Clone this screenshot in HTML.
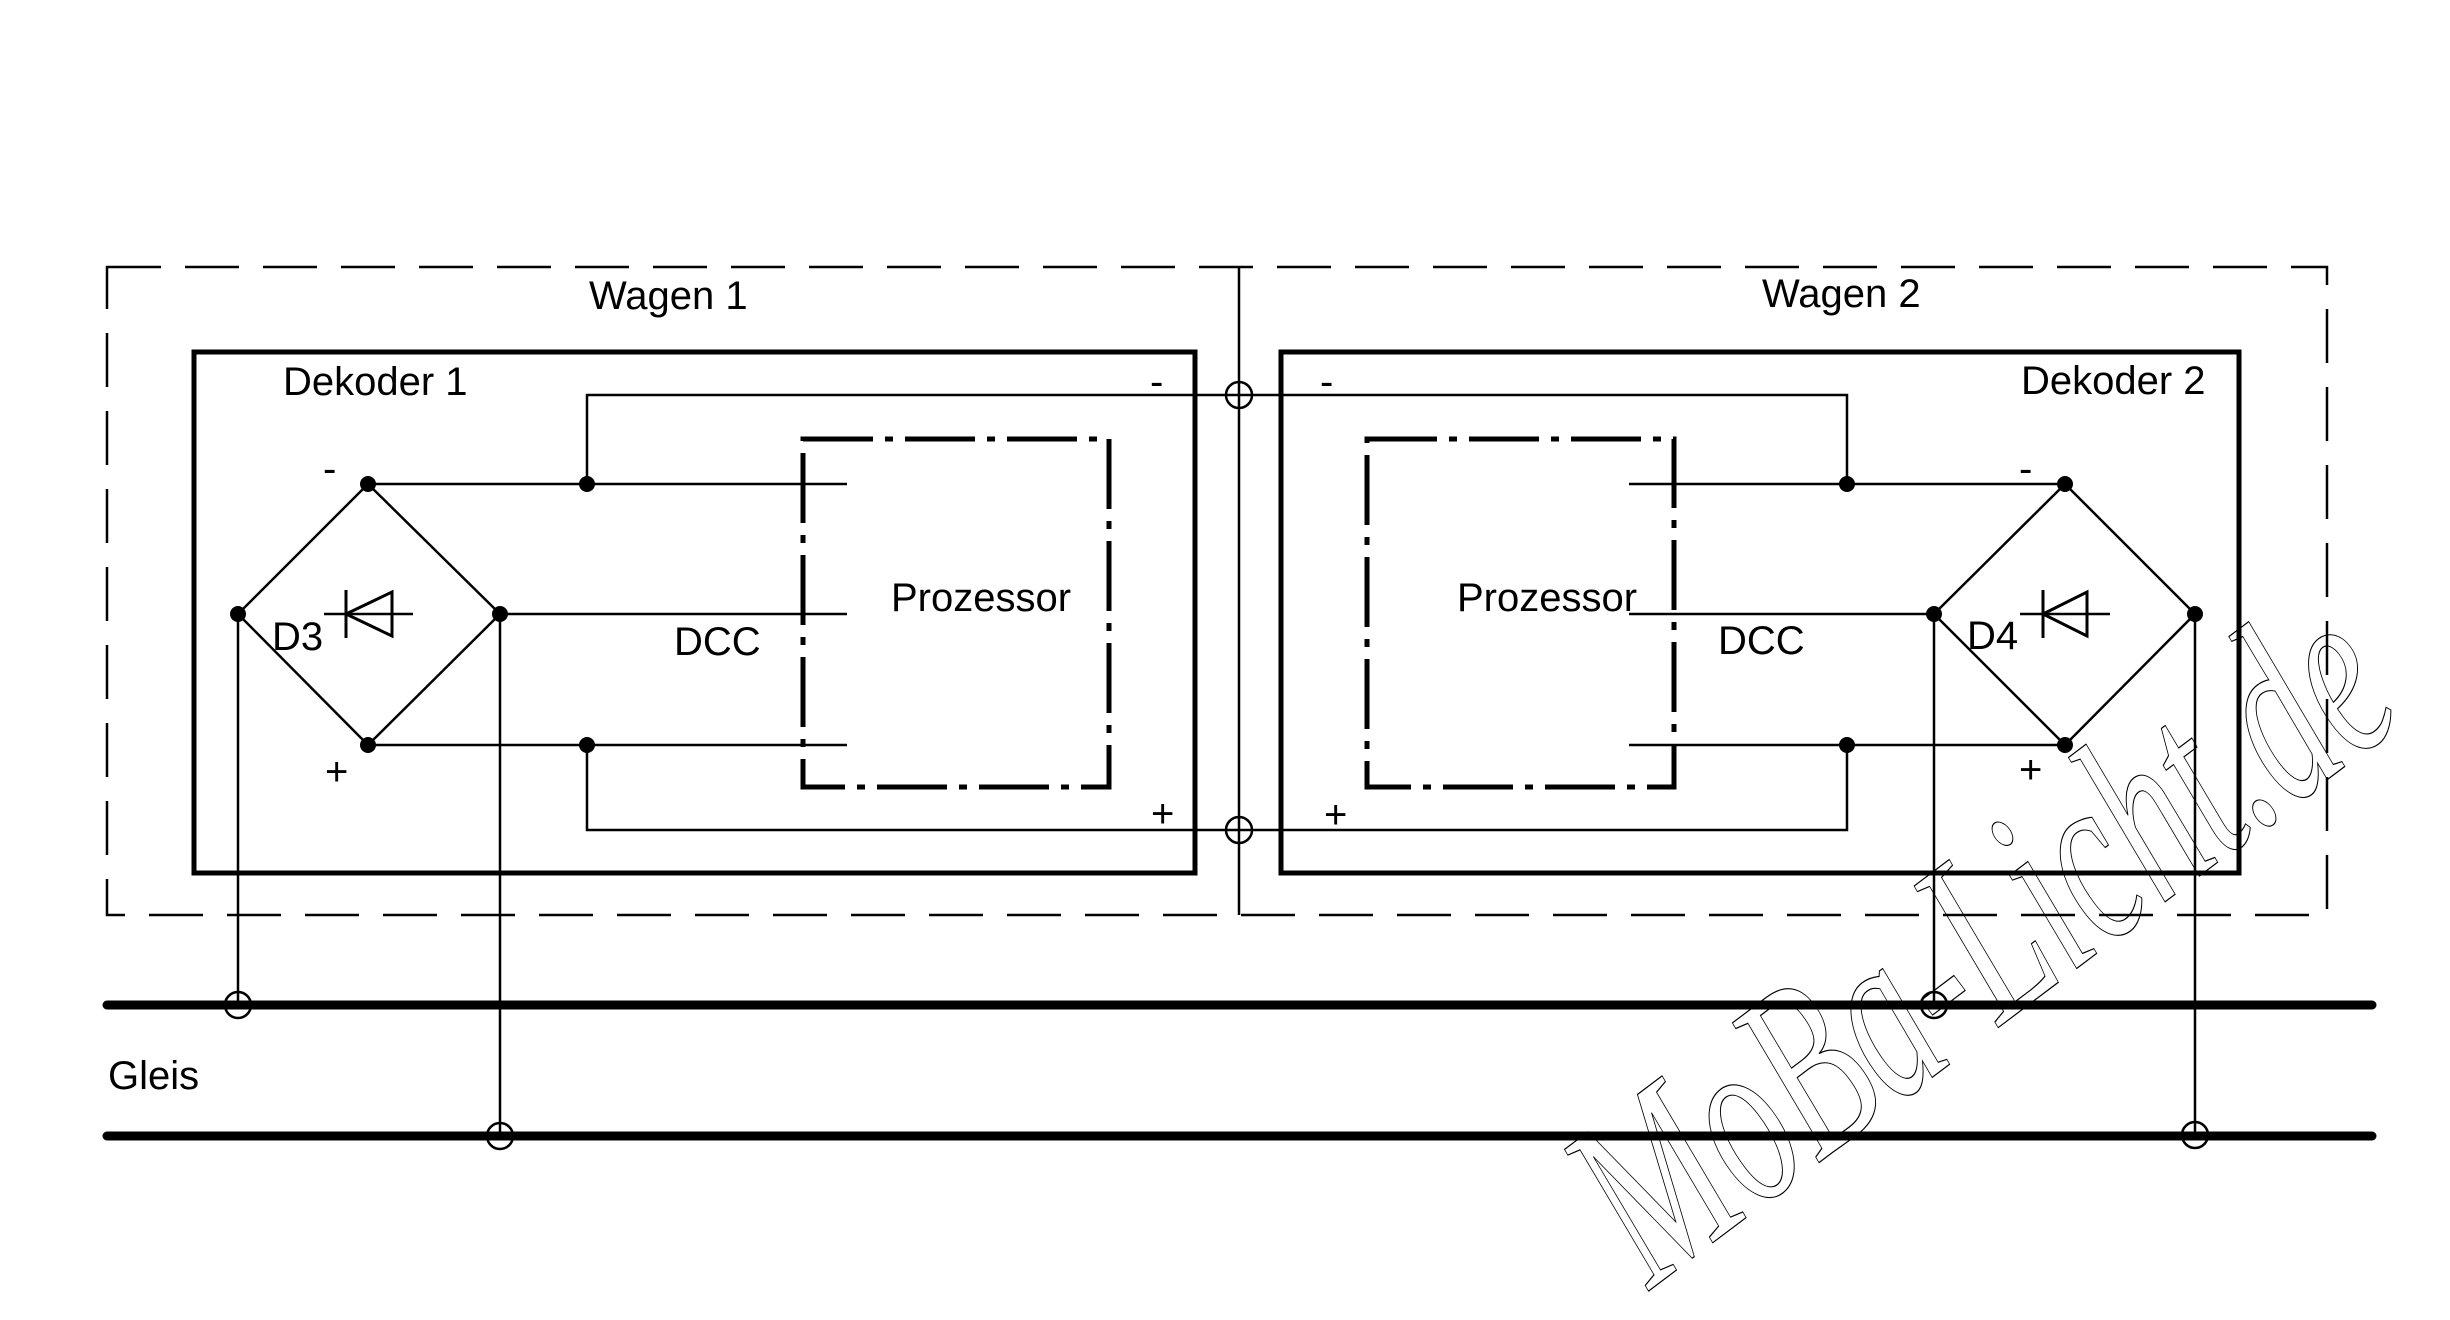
<!DOCTYPE html>
<html><head><meta charset="utf-8"><style>
html,body{margin:0;padding:0;background:#fff;}
svg{display:block;}
text{font-family:"Liberation Sans",Arial,sans-serif;font-size:40px;fill:#000;}
</style></head><body>
<svg width="2450" height="1320" viewBox="0 0 2450 1320" xmlns="http://www.w3.org/2000/svg">
<g fill="none" stroke="#000">
<rect x="107" y="267" width="2220" height="648" stroke-width="2.5" stroke-dasharray="54,24"/>
<line x1="1239" y1="267" x2="1239" y2="915" stroke-width="2.5"/>
<rect x="194" y="352" width="1001" height="521" stroke-width="5"/>
<rect x="1281" y="352" width="958" height="521" stroke-width="5"/>
<rect x="803" y="439" width="306" height="348" stroke-width="5" stroke-dasharray="70,12,8,12"/>
<rect x="1367" y="439" width="307" height="348" stroke-width="5" stroke-dasharray="70,12,8,12"/>
<polygon points="368,484 500,614 368,745 238,614" stroke-width="2.5"/>
<polygon points="2065,484 2195,614 2065,745 1934,614" stroke-width="2.5"/>
<polyline points="368,484 847,484" stroke-width="2.5"/>
<polyline points="500,614 847,614" stroke-width="2.5"/>
<polyline points="368,745 847,745" stroke-width="2.5"/>
<polyline points="587,484 587,395 1847,395 1847,484" stroke-width="2.5"/>
<polyline points="587,745 587,830 1847,830 1847,745" stroke-width="2.5"/>
<polyline points="1629,484 2065,484" stroke-width="2.5"/>
<polyline points="1629,614 1934,614" stroke-width="2.5"/>
<polyline points="1629,745 2065,745" stroke-width="2.5"/>
<line x1="238" y1="614" x2="238" y2="1005" stroke-width="2.5"/>
<line x1="500" y1="614" x2="500" y2="1136" stroke-width="2.5"/>
<line x1="1934" y1="614" x2="1934" y2="1005" stroke-width="2.5"/>
<line x1="2195" y1="614" x2="2195" y2="1135" stroke-width="2.5"/>
<line x1="107" y1="1005" x2="2372" y2="1005" stroke-width="9" stroke-linecap="round"/>
<line x1="107" y1="1136" x2="2372" y2="1136" stroke-width="9" stroke-linecap="round"/>
<circle cx="1239" cy="395" r="13" stroke-width="2.5"/>
<circle cx="1239" cy="830" r="13" stroke-width="2.5"/>
<circle cx="238" cy="1005" r="13" stroke-width="2.5"/>
<circle cx="500" cy="1136" r="13" stroke-width="2.5"/>
<circle cx="1934" cy="1005" r="13" stroke-width="2.5"/>
<circle cx="2195" cy="1135" r="13" stroke-width="2.5"/>
<line x1="324" y1="614" x2="413" y2="614" stroke-width="2.5"/>
<line x1="346" y1="590" x2="346" y2="638" stroke-width="3"/>
<polygon points="346,614 392,592 392,636" stroke-width="3"/>
<line x1="2020" y1="614" x2="2110" y2="614" stroke-width="2.5"/>
<line x1="2043" y1="590" x2="2043" y2="638" stroke-width="3"/>
<polygon points="2043,614 2087,592 2087,636" stroke-width="3"/>
</g>
<g fill="#000">
<circle cx="368" cy="484" r="8"/><circle cx="500" cy="614" r="8"/><circle cx="368" cy="745" r="8"/><circle cx="238" cy="614" r="8"/>
<circle cx="587" cy="484" r="8"/><circle cx="587" cy="745" r="8"/>
<circle cx="2065" cy="484" r="8"/><circle cx="2195" cy="614" r="8"/><circle cx="2065" cy="745" r="8"/><circle cx="1934" cy="614" r="8"/>
<circle cx="1847" cy="484" r="8"/><circle cx="1847" cy="745" r="8"/>
</g>
<text x="589" y="309">Wagen 1</text>
<text x="1762" y="307">Wagen 2</text>
<text x="283" y="395">Dekoder 1</text>
<text x="2021" y="394">Dekoder 2</text>
<text x="891" y="611">Prozessor</text>
<text x="1457" y="611">Prozessor</text>
<text x="674" y="655">DCC</text>
<text x="1718" y="654">DCC</text>
<text x="272" y="650">D3</text>
<text x="1967" y="649">D4</text>
<text x="108" y="1089">Gleis</text>
<text x="323" y="482">-</text>
<text x="325" y="785">+</text>
<text x="1150" y="395">-</text>
<text x="1151" y="827">+</text>
<text x="1320" y="395">-</text>
<text x="1324" y="828">+</text>
<text x="2019" y="482">-</text>
<text x="2019" y="783">+</text>
<text x="0" y="0" transform="translate(1650,1290) rotate(-37)" textLength="950" lengthAdjust="spacingAndGlyphs" style="font-family:'Liberation Serif',serif;font-style:italic;font-size:250px;fill:none;stroke:#000;stroke-width:1.2">MoBa-Licht.de</text>
</svg>
</body></html>
